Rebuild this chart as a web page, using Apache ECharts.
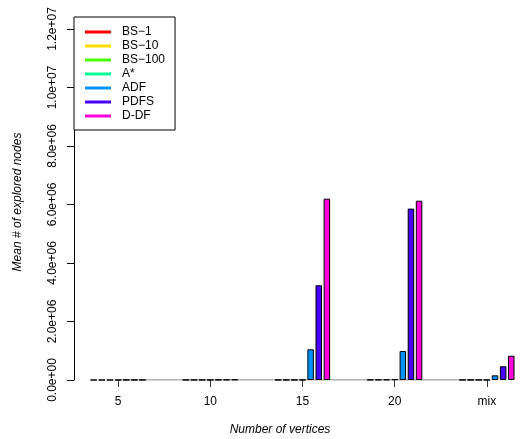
<!DOCTYPE html>
<html>
<head>
<meta charset="utf-8">
<script src="https://cdn.jsdelivr.net/npm/echarts@6/dist/echarts.min.js"></script>
<style>html,body{margin:0;padding:0;background:#fff;}#c{width:524px;height:439px;}</style>
</head>
<body>
<div id="c"></div>
<script>
var categories = ['5', '10', '15', '20', 'mix'];
var seriesNames = ['BS\u22121', 'BS\u221210', 'BS\u2212100', 'A*', 'ADF', 'PDFS', 'D-DF'];
var seriesColors = ['#FF0000', '#FFDB00', '#49FF00', '#00FF92', '#0092FF', '#4900FF', '#FF00DB'];
var bs1 = [40, 300, 2500, 9000, 1500];
var bs10 = [60, 450, 3500, 12000, 2000];
var bs100 = [90, 700, 5000, 16000, 2800];
var astar = [30, 400, 6000, 25000, 3000];
var adf = [300, 6000, 1050000, 990000, 160000];
var pdfs = [500, 12000, 3240000, 5860000, 470000];
var ddf = [600, 15000, 6200000, 6130000, 830000];
var baseline = [0, 0, 0, 0, 0];
var yTicks = [0, 2000000, 4000000, 6000000, 8000000, 10000000, 12000000];
var yTickLabels = ['0.0e+00', '2.0e+06', '4.0e+06', '6.0e+06', '8.0e+06', '1.0e+07', '1.2e+07'];
var xTitle = 'Number of vertices';
var yTitle = 'Mean # of explored nodes';

var allValues = [bs1, bs10, bs100, astar, adf, pdfs, ddf];
var FONT = 'Liberation Sans, Arial, Helvetica, sans-serif';
var FS = 12;

var series = [{
  name: '_axis',
  type: 'line',
  data: baseline,
  symbol: 'none',
  silent: true,
  lineStyle: { color: '#666', width: 1 },
  z: 1,
  animation: false
}];
seriesNames.forEach(function (name, i) {
  series.push({
    name: name,
    type: 'bar',
    data: allValues[i],
    barWidth: 6.5,
    barGap: '25%',
    itemStyle: { color: seriesColors[i], borderColor: '#000', borderWidth: 1 },
    emphasis: { disabled: true },
    z: 2,
    animation: false
  });
});

var chart = echarts.init(document.getElementById('c'), null, { renderer: 'canvas' });
chart.setOption({
  backgroundColor: '#fff',
  animation: false,
  textStyle: { fontFamily: FONT },
  grid: { left: 72, width: 461, top: 29, bottom: 59, containLabel: false, outerBoundsMode: 'none' },
  legend: {
    data: seriesNames,
    orient: 'vertical',
    left: 74,
    top: 17,
    padding: [8, 10, 7, 11],
    itemGap: 0,
    itemWidth: 26,
    itemHeight: 3,
    icon: 'rect',
    itemStyle: { borderWidth: 0 },
    borderColor: '#000',
    borderWidth: 1,
    backgroundColor: '#fff',
    selectedMode: false,
    textStyle: { color: '#000', fontSize: FS, fontFamily: FONT, lineHeight: 14, padding: [0, 0, 0, 6] }
  },
  graphic: [
    {
      type: 'text', x: 280, y: 430,
      style: { text: xTitle, textAlign: 'center', textVerticalAlign: 'middle', fontStyle: 'italic', fontSize: FS, fontFamily: FONT, fill: '#000' }
    },
    {
      type: 'text', x: 18, y: 202, rotation: Math.PI / 2,
      style: { text: yTitle, textAlign: 'center', textVerticalAlign: 'middle', fontStyle: 'italic', fontSize: FS, fontFamily: FONT, fill: '#000' }
    }
  ],
  xAxis: {
    type: 'category',
    data: categories,
    axisLine: { show: false },
    axisTick: { show: true, alignWithLabel: true, length: 7, lineStyle: { color: '#333' } },
    axisLabel: { fontSize: FS, color: '#000', margin: 16, fontFamily: FONT }
  },
  yAxis: {
    type: 'value',
    min: 0,
    max: 12000000,
    interval: 2000000,
    offset: -2,
    axisLine: { show: true, lineStyle: { color: '#000', width: 1 } },
    axisTick: { show: true, length: 7, lineStyle: { color: '#000' } },
    splitLine: { show: false },
    axisLabel: {
      rotate: 90,
      fontSize: FS,
      color: '#000',
      margin: 15,
      fontFamily: FONT,
      formatter: function (v) {
        var idx = yTicks.indexOf(v);
        return idx >= 0 ? yTickLabels[idx] : '';
      }
    }
  },
  series: series
});
</script>
</body>
</html>
